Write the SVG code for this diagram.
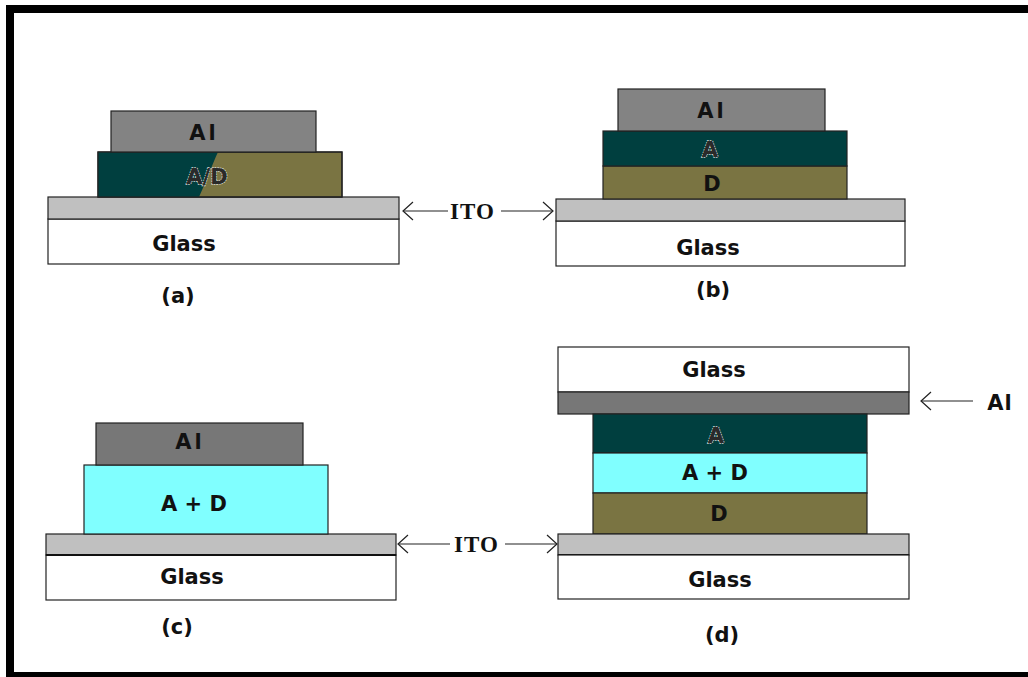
<svg xmlns="http://www.w3.org/2000/svg" width="1028" height="677" viewBox="0 0 1028 677">
<defs>
<style>
.al{fill:#838383;stroke:#222;stroke-width:1.2}
.teal{fill:#003f3f;stroke:#222;stroke-width:1.2}
.olive{fill:#7a7442;stroke:#222;stroke-width:1.2}
.cyan{fill:#80ffff;stroke:#222;stroke-width:1.2}
.ito{fill:#c0c0c0;stroke:#222;stroke-width:1.2}
.glass{fill:#ffffff;stroke:#222;stroke-width:1.2}
.t{font-family:"DejaVu Sans","Liberation Sans",sans-serif;font-weight:bold;font-size:21px;fill:#111;text-anchor:middle}
.tl{font-family:"DejaVu Sans","Liberation Sans",sans-serif;font-weight:bold;font-size:21px;fill:#2a2a2a;stroke:#e0e0e0;stroke-width:1.4;stroke-dasharray:1.5 1;paint-order:stroke;text-anchor:middle}
.ito-t{font-family:"Liberation Serif",serif;font-weight:bold;font-size:23px;fill:#111;letter-spacing:1px}
.ln{stroke:#222;stroke-width:1.2;fill:none}
</style>
<marker id="ah" viewBox="0 0 12 20" refX="11" refY="10" markerWidth="12" markerHeight="20" markerUnits="userSpaceOnUse" orient="auto-start-reverse">
<path d="M1,1 L11,10 L1,19" fill="none" stroke="#222" stroke-width="1.2"/>
</marker>
</defs>
<rect width="1028" height="677" fill="#fff"/>
<g id="frame">
<rect x="6" y="5" width="1022" height="8" fill="#000"/>
<rect x="6" y="5" width="8" height="672" fill="#000"/>
<rect x="6" y="672" width="1022" height="5" fill="#000"/>
</g>
<g id="device-a">
<rect class="glass" x="48" y="219" width="351" height="45"/>
<rect class="ito" x="48" y="197" width="351" height="22"/>
<rect class="olive" x="98" y="152" width="244" height="45"/>
<path d="M98,152 L218,152 C212,165 206,182 199,197 L98,197 Z" fill="#003f3f"/>
<rect x="98" y="152" width="244" height="45" fill="none" stroke="#222" stroke-width="1.2"/>
<rect class="al" x="111" y="111" width="205" height="41"/>
<text class="t" x="204" y="140" letter-spacing="3">Al</text>
<text class="tl" x="207" y="184">A/D</text>
<text class="t" x="184" y="251">Glass</text>
<text class="t" x="178" y="303">(a)</text>
</g>
<g id="device-b">
<rect class="glass" x="556" y="221" width="349" height="45"/>
<rect class="ito" x="556" y="199" width="349" height="22"/>
<rect class="olive" x="603" y="166" width="244" height="33"/>
<rect class="teal" x="603" y="131" width="244" height="35"/>
<rect class="al" x="618" y="89" width="207" height="42"/>
<text class="t" x="712" y="118" letter-spacing="3">Al</text>
<text class="tl" x="710" y="157">A</text>
<text class="t" x="712" y="191">D</text>
<text class="t" x="708" y="255">Glass</text>
<text class="t" x="713" y="297">(b)</text>
</g>
<g id="device-c">
<rect class="glass" x="46" y="555" width="350" height="45"/>
<rect class="ito" x="46" y="534" width="350" height="21"/>
<line x1="46" y1="555" x2="396" y2="555" stroke="#111" stroke-width="2"/>
<rect class="cyan" x="84" y="465" width="244" height="69"/>
<rect class="al" x="96" y="423" width="207" height="42" style="fill:#777"/>
<text class="t" x="190" y="449" letter-spacing="3">Al</text>
<text class="t" x="194" y="511">A + D</text>
<text class="t" x="192" y="584">Glass</text>
<text class="t" x="177" y="634">(c)</text>
</g>
<g id="device-d">
<rect class="glass" x="558" y="347" width="351" height="45"/>
<rect class="al" x="558" y="392" width="351" height="22" style="fill:#777"/>
<rect class="teal" x="593" y="414" width="274" height="39"/>
<rect class="cyan" x="593" y="453" width="274" height="40"/>
<rect class="olive" x="593" y="493" width="274" height="41"/>
<rect class="ito" x="558" y="534" width="351" height="21"/>
<line x1="558" y1="555" x2="909" y2="555" stroke="#111" stroke-width="2"/>
<rect class="glass" x="558" y="555" width="351" height="44"/>
<text class="t" x="714" y="377">Glass</text>
<text class="tl" x="716" y="443">A</text>
<text class="t" x="715" y="480">A + D</text>
<text class="t" x="719" y="521">D</text>
<text class="t" x="720" y="587">Glass</text>
<text class="t" x="722" y="642">(d)</text>
</g>
<g id="connectors">
<line class="ln" x1="403" y1="211" x2="448" y2="211" marker-start="url(#ah)"/>
<line class="ln" x1="501" y1="211" x2="553" y2="211" marker-end="url(#ah)"/>
<line class="ln" x1="398" y1="544" x2="450" y2="544" marker-start="url(#ah)"/>
<line class="ln" x1="505" y1="544" x2="557" y2="544" marker-end="url(#ah)"/>
<line class="ln" x1="921" y1="401" x2="973" y2="401" marker-start="url(#ah)"/>
</g>
<g id="labels">
<text class="ito-t" x="450" y="219">ITO</text>
<text class="ito-t" x="454" y="552">ITO</text>
<text class="t" x="1000" y="410" letter-spacing="1">Al</text>
</g>
</svg>
